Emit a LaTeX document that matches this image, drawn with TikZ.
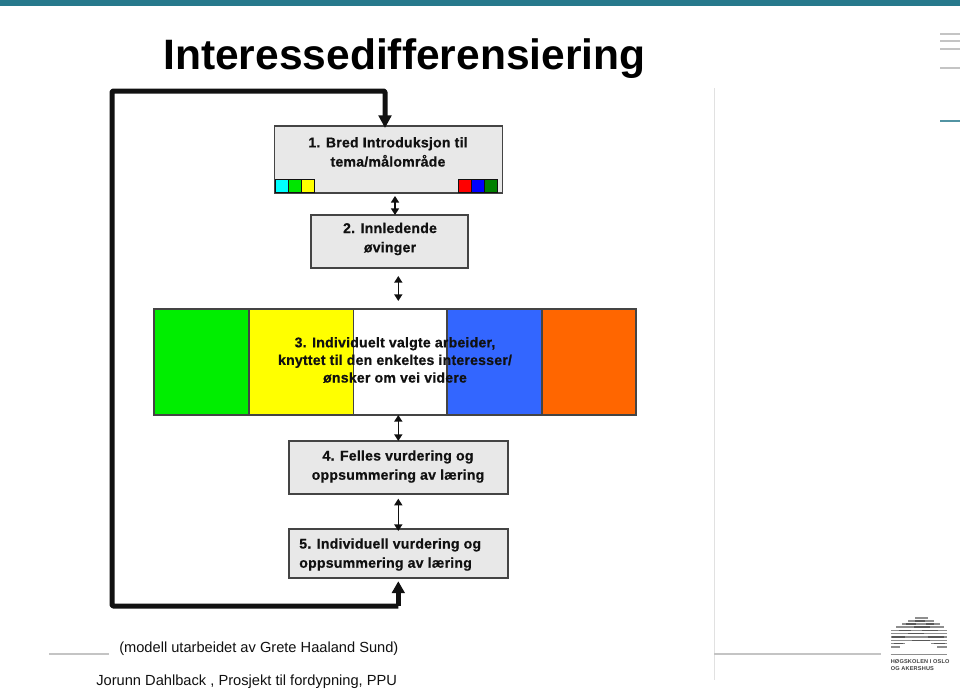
\documentclass[tikz,border=0pt]{standalone}
\usepackage{fontspec}
\setmainfont{Liberation Sans}
\newfontfamily\boxfont[LetterSpace=1.4,FakeBold=0.6]{Liberation Sans Bold}
\newfontfamily\markfont[LetterSpace=3]{Liberation Sans Bold}
\newfontfamily\titlefont{Liberation Sans Bold}
\usetikzlibrary{arrows.meta}
\definecolor{teal}{HTML}{27798C}
\definecolor{panel}{HTML}{E8E8E8}
\definecolor{edge}{HTML}{444444}
\definecolor{ink}{HTML}{111111}
\definecolor{rule}{HTML}{C4C4C4}
\definecolor{logo}{HTML}{8E8E8E}
\definecolor{kcyan}{HTML}{00FFFF}
\definecolor{kgreen}{HTML}{00E600}
\definecolor{kyellow}{HTML}{FFFF00}
\definecolor{kred}{HTML}{FF0000}
\definecolor{kblue}{HTML}{0000FF}
\definecolor{kdark}{HTML}{008000}
\definecolor{sgreen}{HTML}{00EE00}
\definecolor{sblue}{HTML}{3366FF}
\definecolor{sorange}{HTML}{FF6600}
\tikzset{
  x=0.75pt, y=-0.75pt,
  panelbox/.style={draw=edge, line width=0.85pt, fill=panel, inner sep=0pt, outer sep=0pt, anchor=north west},
  band/.style={draw=edge, line width=0.8pt, inner sep=0pt, outer sep=0pt, minimum height=79.5pt, anchor=north west},
  swatch/.style={draw=ink, line width=0.65pt, inner sep=0pt, outer sep=0pt, minimum width=9.9pt, minimum height=10pt, anchor=north west},
  boxtext/.style={font=\boxfont\fontsize{10.6pt}{14.4pt}\selectfont, text=ink, align=center, inner sep=0pt},
  twoway/.style={draw=ink, line width=1.15pt, {Triangle[width=6pt,length=5pt]}-{Triangle[width=6pt,length=5pt]}},
  loopline/.style={draw=ink, line width=3.75pt, line join=round},
  hair/.style={draw=rule, line width=0.8pt},
  logobar/.style={draw=logo, line width=1pt},
  logodark/.style={draw=ink!70, line width=1pt}
}
\begin{document}
\begin{tikzpicture}
\useasboundingbox (0,0) rectangle (960,689);
\fill[white] (0,0) rectangle (960,689);
\fill[teal] (0,0) rectangle (960,6);

% right-hand outline marks
\foreach \yy in {34,41,49,68} \draw[rule, line width=1pt] (940,\yy) -- (960,\yy);
\draw[teal!80, line width=1pt] (940,121) -- (960,121);

% faint slide rules
\draw[hair, draw=rule!50] (714.5,88) -- (714.5,680);
\draw[hair] (49,654) -- (109,654);
\draw[hair] (714,654) -- (881,654);

\node[anchor=base west, inner sep=0pt, font=\titlefont\fontsize{31.9pt}{36pt}\selectfont, text=black] (title) at (163,69) {Interessedifferensiering};

% process boxes
\node[panelbox, minimum width=171pt, minimum height=50.25pt] (box1) at (274.5,126) {};
\node[panelbox, minimum width=117.75pt, minimum height=39.75pt] (box2) at (311,215) {};
\node[panelbox, minimum width=164.25pt, minimum height=39.75pt] (box4) at (289,441) {};
\node[panelbox, minimum width=164.25pt, minimum height=36.75pt] (box5) at (289,529) {};

% colour key in the first box
\foreach \nm/\xx/\cc in {k1/275/kcyan, k2/288.2/kgreen, k3/301.4/kyellow, k4/458/kred, k5/471.2/kblue, k6/484.4/kdark}
  \node[swatch, fill=\cc] (\nm) at (\xx,179.5) {};

% coloured work strip
\node[band, fill=sgreen, minimum width=71.25pt] (s1) at (154,309) {};
\node[band, fill=kyellow, minimum width=78.4pt] (s2) at (249,309) {};
\node[band, fill=white, minimum width=70.1pt] (s3) at (353.5,309) {};
\node[band, fill=sblue, minimum width=71.25pt] (s4) at (447,309) {};
\node[band, fill=sorange, minimum width=70.5pt] (s5) at (542,309) {};

% box captions
\node[boxtext] (t1) at (388,152) {1. Bred Introduksjon til\\tema/målområde};
\node[boxtext] (t2) at (390,239) {2. Innledende\\øvinger};
\node[boxtext, font=\boxfont\fontsize{10.6pt}{13.2pt}\selectfont] (t3) at (395,360) {3. Individuelt valgte arbeider,\\knyttet til den enkeltes interesser/\\ønsker om vei videre};
\node[boxtext] (t4) at (398,466.5) {4. Felles vurdering og\\oppsummering av læring};
\node[boxtext, align=left, anchor=west] (t5) at (299,554.5) {5. Individuell vurdering og\\oppsummering av læring};

% two-way links between the stages
\coordinate (axisA) at (395,0);
\coordinate (axisB) at (398.3,0);
\draw[twoway, shorten <=2.2pt] (box1.south -| axisA) -- (box2.north -| axisA);
\draw[twoway, shorten <=6pt, shorten >=6pt] (box2.south -| axisB) -- (s3.north -| axisB);
\draw[twoway] (s3.south -| axisB) -- (box4.north -| axisB);
\draw[twoway, shorten <=3.5pt, shorten >=-1.5pt] (box4.south -| axisB) -- (box5.north -| axisB);

% feedback loop from stage five back to stage one
\coordinate (loopStart) at (398.3,606);
\coordinate (cornerA) at (112,606);
\coordinate (cornerB) at (112,91);
\coordinate (axisC) at (385,0);
\draw[loopline, rounded corners=0.8pt, -{Triangle[width=9.5pt,length=9.5pt]}, shorten >=-1.5pt] (loopStart) -- (cornerA) -- (cornerB) -- (cornerB -| axisC) -- (box1.north -| axisC);
\draw[loopline, -{Triangle[width=9.5pt,length=9pt]}, shorten >=2.4pt] (loopStart) -- (box5.south -| loopStart);

% footer text
\node[anchor=base west, inner sep=0pt, font=\fontsize{10.98pt}{13pt}\selectfont, text=ink] (credit) at (119,652) {(modell utarbeidet av Grete Haaland Sund)};
\node[anchor=base west, inner sep=0pt, font=\fontsize{11pt}{13pt}\selectfont, text=ink] (author) at (96,685) {Jorunn Dahlback , Prosjekt til fordypning, PPU};

% college mark: brick rows under an arch
\foreach \yy/\xa/\xb in {618/915/928,621/908/934,624/902/940,627/896/944,630.3/891/947,633.6/891/947,637/891/947,640.3/891/947,643.6/891/905,643.6/931/947,647/891/900,647/937/947}
  \draw[logobar] (\xa,\yy) -- (\xb,\yy);
\foreach \yy/\xa/\xb in {621/915/925,624/906/916,624/926/934,627/914/930,630.3/899/911,630.3/922/938,633.6/908/924,637/892/905,637/928/944,640.3/912/930,643.6/894/903,643.6/934/945}
  \draw[logodark] (\xa,\yy) -- (\xb,\yy);
\draw[logobar] (890.5,654.5) -- (947,654.5);
\node[anchor=west, inner sep=0pt, align=left, font=\markfont\fontsize{4.2pt}{5.25pt}\selectfont, text=ink!80] (college) at (890.5,665) {HØGSKOLEN I OSLO\\OG AKERSHUS};
\end{tikzpicture}
\end{document}
